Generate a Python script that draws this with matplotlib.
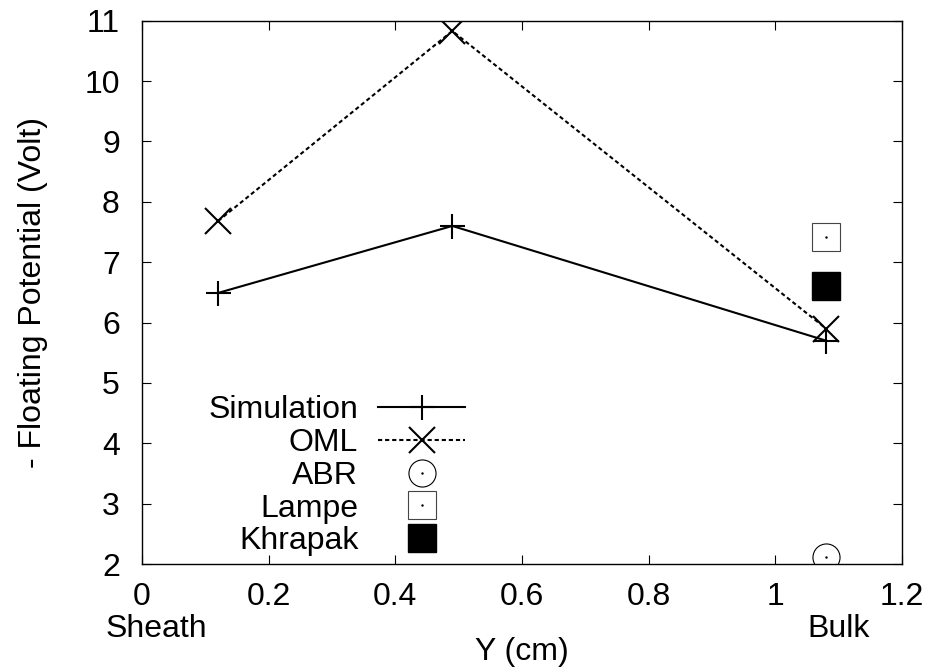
import numpy as np
import matplotlib
matplotlib.use("Agg")
import matplotlib.pyplot as plt
from matplotlib.legend_handler import HandlerTuple

plt.rcParams['font.family'] = ['Liberation Sans', 'DejaVu Sans']

# data
y_pos = [0.12, 0.49, 1.08]
simulation = [6.49, 7.60, 5.70]
oml = [7.68, 10.83, 5.90]
bulk_x = [1.08]
abr = [2.12]
lampe = [7.42]
khrapak = [6.60]

xticks = [0, 0.2, 0.4, 0.6, 0.8, 1.0, 1.2]
xtick_labels = ["0", "0.2", "0.4", "0.6", "0.8", "1", "1.2"]
yticks = list(range(2, 12))

fs = 23

fig = plt.figure(figsize=(9.35, 6.67), dpi=100)
ax = fig.add_axes([142/935, 1 - 564/667, 760/935, (564 - 20.7)/667])

sim_line, = ax.plot(y_pos, simulation, color='black', lw=1.5, marker='+',
                    ms=18, mew=1.5, label='Simulation')
oml_line, = ax.plot(y_pos, oml, color='black', lw=1.5, ls=(0, (2.0, 1.4)),
                    marker='x', ms=18.5, mew=1.5, label='OML')
abr_c, = ax.plot(bulk_x, abr, ls='none', marker='o', ms=19.5, mfc='none',
                 mec='black', mew=0.8)
abr_d, = ax.plot(bulk_x, abr, ls='none', marker='.', ms=1.5, color='black')
lampe_s, = ax.plot(bulk_x, lampe, ls='none', marker='s', ms=19.5, mfc='none',
                   mec='#444444', mew=0.8)
lampe_d, = ax.plot(bulk_x, lampe, ls='none', marker='.', ms=1.5, color='black')
khr, = ax.plot(bulk_x, khrapak, ls='none', marker='s', ms=19.5, color='black')

ax.set_xlim(0, 1.2)
ax.set_ylim(2, 11)
ax.set_xticks(xticks, labels=xtick_labels)
ax.set_yticks(yticks)
ax.tick_params(direction='in', top=True, right=True, length=6.5, width=0.8,
               labelsize=fs)
ax.tick_params(axis='x', pad=13)
ax.tick_params(axis='y', pad=16)
for s in ax.spines.values():
    s.set_linewidth(1.0)

ax.set_xlabel('Y (cm)', fontsize=fs, labelpad=18)
ax.set_ylabel('- Floating Potential (Volt)', fontsize=fs, labelpad=26)

tr = ax.get_xaxis_transform()
ax.text(0.022, -0.12, 'Sheath', transform=tr, ha='center', va='center',
        fontsize=fs)
ax.text(1.10, -0.12, 'Bulk', transform=tr, ha='center', va='center',
        fontsize=fs)

ax.legend([sim_line, oml_line, (abr_c, abr_d), (lampe_s, lampe_d), khr],
          ['Simulation', 'OML', 'ABR', 'Lampe', 'Khrapak'],
          handler_map={tuple: HandlerTuple(ndivide=1, pad=0)},
          markerfirst=False, frameon=False, fontsize=fs,
          handlelength=2.72, handletextpad=0.62, labelspacing=0.09,
          borderpad=0, borderaxespad=0, loc='upper right',
          bbox_to_anchor=(465/935, 1 - 395/667),
          bbox_transform=fig.transFigure)

fig.savefig('out.png', dpi=100)
